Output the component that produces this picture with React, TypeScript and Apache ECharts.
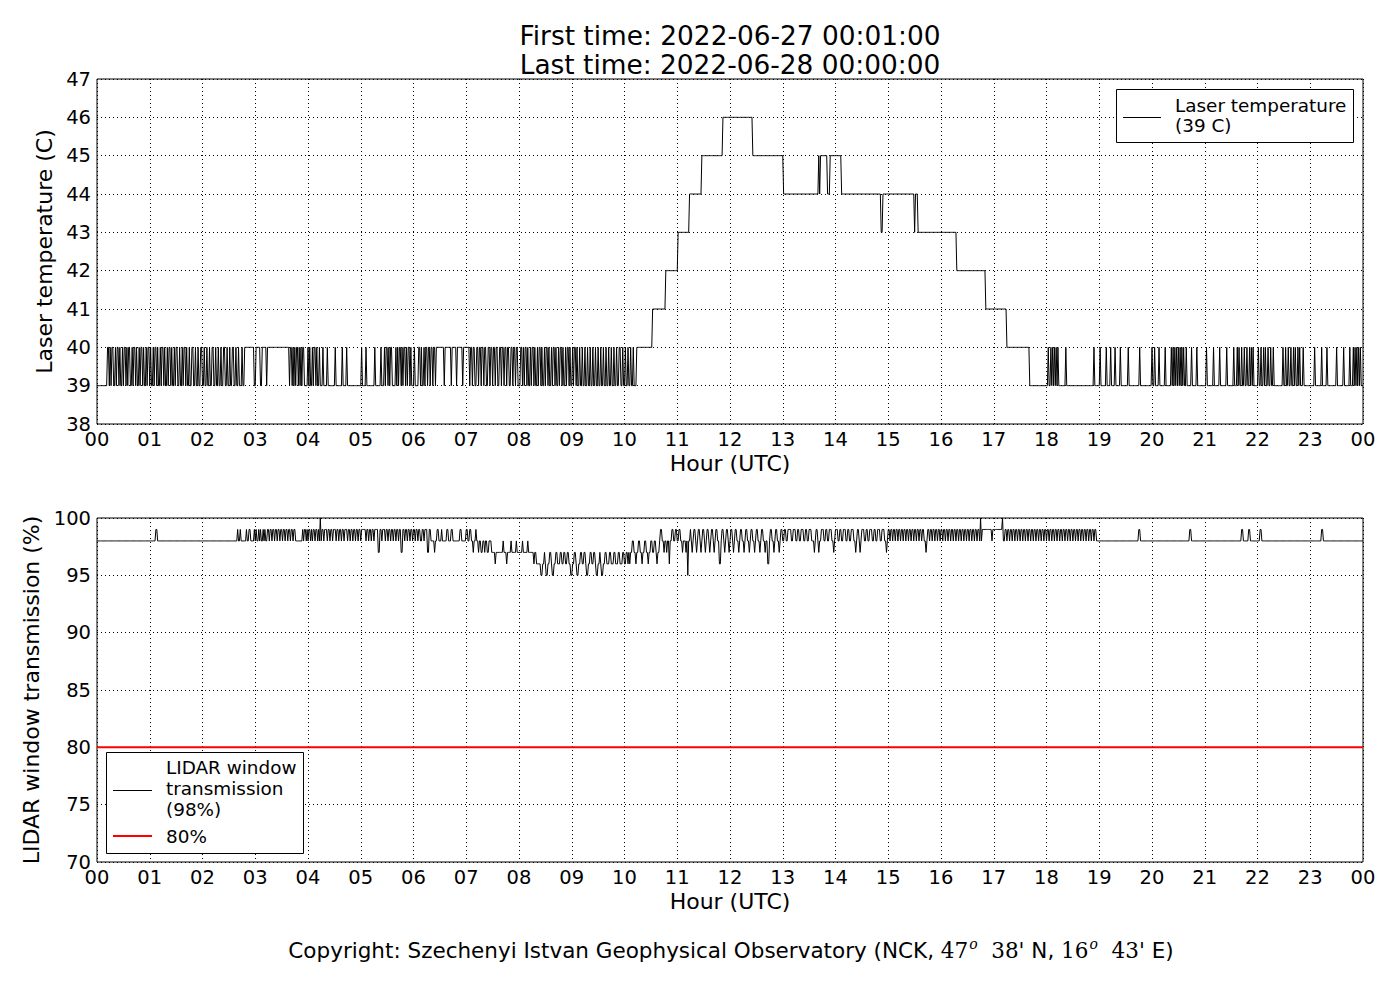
import React, { useEffect, useRef } from "react";
import * as echarts from "echarts";

// ---------- DATA (minutes after 00:00 UTC) ----------
// Laser temperature: base steps [startMinute, value]
const laserBase: number[][] = [
  [0, 39], [168, 40], [219, 39], [366, 40], [481, 39], [614, 40], [632, 41], [647, 42],
  [661, 43], [674, 44], [688, 45], [712, 46], [746, 45], [781, 44], [934, 43], [978, 42],
  [1011, 41], [1035, 40], [1061, 39],
];
// short rises to 40 C where the base is 39 C  [start, end)
const laserUp40: number[][] = [
  [12, 14], [15, 16], [17, 19], [21, 22], [23, 25], [26, 27], [29, 30], [31, 33], [34, 35], [36, 38],
  [40, 41], [42, 44], [45, 46], [48, 49], [50, 52], [53, 54], [56, 57], [58, 60], [61, 62], [64, 65],
  [66, 68], [69, 70], [72, 73], [74, 76], [77, 78], [80, 81], [82, 84], [85, 86], [88, 89], [90, 92],
  [94, 95], [97, 98], [99, 101], [102, 103], [105, 106], [108, 110], [112, 113], [115, 116], [118, 120],
  [122, 123], [125, 126], [128, 129], [131, 133], [135, 136], [138, 139], [141, 142], [144, 146],
  [148, 149], [151, 152], [154, 156], [158, 159], [161, 162], [165, 166],
  [220, 222], [223, 224], [225, 226], [227, 229], [230, 231], [232, 233], [234, 236], [240, 241],
  [242, 243], [245, 246], [247, 249], [250, 251], [253, 254], [257, 258], [262, 263], [271, 272],
  [279, 280], [284, 285],
  [301, 302], [306, 307], [316, 317], [323, 324], [327, 328], [329, 331], [332, 333], [334, 336],
  [340, 341], [342, 343], [344, 346], [347, 348], [349, 351], [352, 353], [354, 356], [357, 358], [361, 362],
  [482, 484], [485, 486], [487, 489], [490, 491], [493, 494], [495, 497], [498, 499], [501, 502],
  [503, 505], [506, 507], [509, 510], [511, 513], [514, 515], [517, 518], [519, 521], [522, 523],
  [525, 526], [527, 529], [530, 531], [533, 534], [535, 537], [538, 539], [541, 542], [543, 545],
  [546, 547], [549, 550], [552, 553], [555, 556], [558, 559], [561, 562], [564, 565], [567, 568],
  [570, 571], [573, 574], [576, 577], [579, 580], [582, 583], [585, 586], [588, 589], [591, 592],
  [594, 596], [598, 599], [601, 602], [604, 605], [607, 608], [610, 611],
  [1082, 1083], [1085, 1086], [1087, 1088], [1089, 1090], [1091, 1092], [1093, 1094], [1102, 1103],
  [1134, 1135], [1141, 1142], [1148, 1149], [1153, 1154], [1158, 1159], [1164, 1165], [1173, 1174],
  [1186, 1187], [1200, 1201], [1203, 1204], [1208, 1209], [1215, 1216], [1222, 1223], [1224, 1225],
  [1226, 1227], [1228, 1229], [1230, 1231], [1232, 1233], [1234, 1235], [1236, 1237], [1239, 1240],
  [1245, 1246], [1251, 1252], [1262, 1263], [1270, 1271], [1277, 1278], [1285, 1286], [1293, 1294],
  [1297, 1298], [1299, 1300], [1302, 1303], [1305, 1306], [1308, 1309], [1311, 1312], [1313, 1314],
  [1315, 1316], [1321, 1322], [1324, 1325], [1327, 1328], [1329, 1330], [1332, 1333], [1335, 1336],
  [1338, 1339], [1349, 1350], [1352, 1353], [1355, 1356], [1358, 1359], [1361, 1362], [1363, 1364],
  [1366, 1367], [1368, 1369], [1372, 1373], [1385, 1386], [1393, 1394], [1399, 1400], [1410, 1411],
  [1418, 1419], [1425, 1426], [1429, 1430], [1431, 1432], [1433, 1434], [1435, 1436], [1437, 1438],
];
// short drops to 39 C where the base is 40 C
const laserDown39: number[][] = [
  [179, 181], [186, 188], [193, 194],
  [368, 369], [370, 372], [373, 374], [376, 377], [379, 380], [382, 383], [385, 386],
  [395, 396], [403, 404], [409, 410], [416, 417],
  [424, 425], [427, 428], [430, 432], [434, 435], [437, 438], [440, 441], [443, 445], [447, 448],
  [450, 451], [453, 454], [456, 458], [460, 461], [463, 464], [466, 467], [469, 471], [473, 474],
  [476, 477], [479, 481],
];
// excursions on the warm plateau [start, end, value]
const laserPlateauSpikes: number[][] = [
  [821, 822, 45], [823, 831, 45], [834, 847, 45], [892, 894, 43], [930, 931, 43],
];

// LIDAR window transmission (%): base steps [startMinute, value]
const lidarBase: number[][] = [
  [0, 98], [303, 99], [380, 98], [449, 97], [497, 96], [605, 97], [640, 98],
];
// excursions [start, end, value]
const lidarSpikes: number[][] = [
  [67, 69, 99], [160, 161, 99], [163, 164, 99], [170, 171, 99], [173, 175, 99],
  [179, 180, 99], [181, 182, 99], [184, 185, 99], [186, 187, 99], [189, 190, 99], [191, 192, 99],
  [194, 196, 99], [197, 199, 99], [200, 202, 99], [203, 205, 99], [206, 208, 99], [209, 211, 99],
  [212, 214, 99], [215, 217, 99], [218, 220, 99], [221, 223, 99], [224, 226, 99],
  [234, 235, 99], [236, 238, 99], [239, 240, 99], [241, 243, 99], [244, 245, 99], [246, 248, 99],
  [249, 251, 99], [252, 253, 99], [254, 255, 100],
  [256, 258, 99], [259, 262, 99], [263, 265, 99], [266, 268, 99], [269, 272, 99], [273, 275, 99],
  [276, 278, 99], [279, 281, 99], [282, 285, 99], [286, 288, 99], [289, 291, 99], [292, 294, 99],
  [295, 297, 99], [298, 300, 99], [301, 303, 99],
  [306, 307, 98], [309, 310, 98], [312, 313, 98], [315, 316, 98], [320, 322, 97], [324, 325, 98],
  [328, 329, 98], [331, 332, 98], [334, 335, 98], [337, 338, 98], [340, 341, 98], [343, 344, 98],
  [346, 348, 97], [350, 351, 98], [353, 354, 98], [356, 357, 98], [359, 360, 98], [362, 363, 98],
  [365, 366, 98], [368, 370, 98], [372, 373, 98], [376, 378, 97],
  [384, 385, 97], [387, 389, 99], [392, 393, 99], [398, 400, 99], [403, 405, 99], [413, 415, 99],
  [420, 422, 99], [424, 426, 99], [428, 429, 97], [431, 432, 99], [434, 435, 97], [437, 439, 97],
  [441, 442, 97], [444, 446, 97],
  [453, 454, 96], [462, 463, 98], [466, 467, 96], [471, 472, 98], [477, 478, 98], [484, 485, 98],
  [490, 491, 98],
  [505, 507, 95], [511, 513, 95], [518, 520, 95], [539, 541, 95], [546, 548, 95], [557, 559, 95],
  [568, 570, 95], [574, 576, 95],
  [498, 500, 97], [509, 510, 97], [515, 517, 97], [522, 524, 97], [527, 529, 97], [531, 533, 97],
  [535, 537, 97], [543, 545, 97], [550, 552, 97], [554, 556, 97], [561, 563, 97], [565, 567, 97],
  [572, 573, 97], [578, 580, 97], [583, 585, 97], [588, 590, 97], [593, 595, 97], [598, 600, 97],
  [602, 604, 97],
  [606, 607, 96], [609, 611, 98], [613, 614, 96], [616, 618, 98], [620, 621, 96], [623, 625, 98],
  [627, 628, 96], [630, 632, 98], [634, 636, 98], [637, 638, 96], [641, 643, 99], [645, 646, 97],
  [648, 649, 97], [651, 652, 96], [654, 656, 99], [658, 660, 99], [662, 664, 99], [666, 667, 97],
  [670, 671, 97], [672, 673, 95],
  [675, 676, 99], [677, 678, 97], [679, 681, 99], [682, 683, 97], [684, 686, 99], [687, 688, 97],
  [689, 691, 99], [692, 693, 97], [694, 696, 99], [697, 698, 97], [699, 701, 99], [702, 703, 97],
  [704, 706, 99], [708, 710, 96], [711, 713, 99], [714, 715, 97], [716, 718, 99], [719, 720, 97],
  [721, 723, 99], [724, 725, 97], [726, 728, 99], [730, 731, 97], [732, 734, 99], [736, 737, 97],
  [738, 740, 99], [742, 743, 97], [744, 746, 99], [748, 749, 97], [750, 752, 99], [754, 755, 97],
  [756, 758, 99], [760, 761, 97], [763, 765, 96], [766, 768, 99], [770, 771, 97], [772, 774, 99],
  [776, 777, 97], [778, 780, 99], [782, 784, 99],
  [786, 790, 99], [792, 795, 99], [797, 799, 99], [801, 804, 99], [806, 808, 99], [810, 813, 99],
  [816, 817, 97], [818, 820, 99], [821, 822, 97], [824, 827, 99], [829, 831, 99], [833, 836, 99],
  [838, 839, 97], [840, 843, 99], [845, 847, 99], [849, 852, 99], [854, 856, 99], [858, 861, 99],
  [863, 864, 97], [865, 867, 99], [868, 869, 97], [870, 873, 99], [875, 877, 99], [879, 882, 99],
  [884, 886, 99], [888, 891, 99], [893, 896, 99], [898, 899, 97],
  [900, 902, 99], [903, 905, 99], [906, 908, 99], [909, 911, 99], [912, 914, 99], [915, 917, 99],
  [918, 920, 99], [921, 923, 99], [924, 926, 99], [927, 929, 99], [930, 932, 99], [933, 935, 99],
  [936, 938, 99], [939, 941, 99], [943, 944, 97], [945, 947, 99], [948, 950, 99], [951, 953, 99],
  [954, 956, 99], [957, 959, 99], [960, 962, 99], [963, 965, 99], [966, 968, 99], [969, 971, 99],
  [972, 974, 99], [975, 977, 99], [978, 980, 99], [981, 983, 99], [984, 986, 99], [987, 989, 99],
  [990, 992, 99], [993, 995, 99], [996, 998, 99], [999, 1001, 99], [1002, 1004, 99],
  [1005, 1006, 100], [1007, 1018, 99], [1019, 1030, 99], [1030, 1031, 100],
  [1033, 1035, 99], [1036, 1038, 99], [1039, 1041, 99], [1042, 1044, 99], [1045, 1047, 99],
  [1048, 1050, 99], [1051, 1053, 99], [1054, 1056, 99], [1057, 1059, 99], [1060, 1062, 99],
  [1063, 1065, 99], [1066, 1068, 99], [1069, 1071, 99], [1072, 1074, 99], [1075, 1077, 99],
  [1078, 1080, 99], [1081, 1083, 99], [1084, 1086, 99], [1087, 1089, 99], [1090, 1092, 99],
  [1093, 1095, 99], [1096, 1098, 99], [1099, 1101, 99], [1102, 1104, 99], [1105, 1107, 99],
  [1108, 1110, 99], [1111, 1113, 99], [1114, 1116, 99], [1117, 1119, 99], [1120, 1122, 99],
  [1123, 1125, 99], [1126, 1128, 99], [1129, 1131, 99], [1132, 1134, 99], [1135, 1137, 99],
  [1185, 1187, 99], [1243, 1245, 99], [1302, 1304, 99], [1310, 1312, 99], [1323, 1325, 99],
  [1393, 1395, 99],
];
// 80 % threshold line
const thresholdLine: number[][] = [[0, 80], [1440, 80]];

// axis ranges / tick labels
const hourTicks = ["00", "01", "02", "03", "04", "05", "06", "07", "08", "09", "10", "11", "12",
  "13", "14", "15", "16", "17", "18", "19", "20", "21", "22", "23", "00"];
const tempRange = [38, 47, 1];
const transRange = [70, 100, 5];

const titleLines = ["First time: 2022-06-27 00:01:00", "Last time: 2022-06-28 00:00:00"];

function expand(base: number[][], overrides: number[][]): number[][] {
  const vals: number[] = [];
  let bi = 0;
  for (let m = 0; m <= 1440; m++) {
    while (bi + 1 < base.length && base[bi + 1][0] <= m) bi++;
    vals.push(base[bi][1]);
  }
  for (const [s, e, v] of overrides) for (let m = s; m < e; m++) vals[m] = v;
  return vals.map((v, m) => [m, v]);
}

const FONT = "DejaVu Sans";
const TICK = 19.5;
const NAME = 22;

export default function App() {
  const ref = useRef<HTMLDivElement>(null);
  useEffect(() => {
    document.body.style.margin = "0";
    const chart = echarts.init(ref.current!, null, { renderer: "svg" });
    const laserData = expand(laserBase, [
      ...laserUp40.map(([s, e]) => [s, e, 40]),
      ...laserDown39.map(([s, e]) => [s, e, 39]),
      ...laserPlateauSpikes,
    ]);
    const lidarData = expand(lidarBase, lidarSpikes);

    const gridLine = { show: true, lineStyle: { color: "#000", type: [1, 3] as any, width: 1 } };
    const labelStyle = { color: "#000", fontSize: TICK, fontFamily: FONT };
    const nameStyle = { color: "#000", fontSize: NAME, fontFamily: FONT };
    const xAxisCommon = (gridIndex: number) => ({
      gridIndex,
      type: "value" as const,
      min: 0,
      max: 1440,
      interval: 60,
      axisLine: { show: false },
      axisTick: { show: false },
      splitLine: gridLine,
      axisLabel: { ...labelStyle, margin: 5, formatter: (v: number) => hourTicks[Math.round(v / 60)] },
      name: "Hour (UTC)",
      nameLocation: "middle" as const,
      nameGap: 28,
      nameTextStyle: nameStyle,
    });

    chart.setOption({
      animation: false,
      backgroundColor: "#fff",
      grid: [
        { left: 97, top: 79, width: 1266, height: 345, show: true, borderColor: "#000", borderWidth: 1, backgroundColor: "transparent" },
        { left: 97, top: 518, width: 1266, height: 344, show: true, borderColor: "#000", borderWidth: 1, backgroundColor: "transparent" },
      ],
      xAxis: [xAxisCommon(0), xAxisCommon(1)],
      yAxis: [
        {
          gridIndex: 0, type: "value", min: tempRange[0], max: tempRange[1], interval: tempRange[2],
          axisLine: { show: false }, axisTick: { show: false }, splitLine: gridLine,
          axisLabel: { ...labelStyle, margin: 6 },
          name: "Laser temperature (C)", nameLocation: "middle", nameGap: 37.5, nameTextStyle: nameStyle,
        },
        {
          gridIndex: 1, type: "value", min: transRange[0], max: transRange[1], interval: transRange[2],
          axisLine: { show: false }, axisTick: { show: false }, splitLine: gridLine,
          axisLabel: { ...labelStyle, margin: 6 },
          name: "LIDAR window transmission (%)", nameLocation: "middle", nameGap: 50.5, nameTextStyle: nameStyle,
        },
      ],
      series: [
        {
          name: "Laser temperature", type: "line", xAxisIndex: 0, yAxisIndex: 0, data: laserData,
          showSymbol: false, silent: true, lineStyle: { color: "#000", width: 1 }, z: 3,
        },
        {
          name: "LIDAR window transmission", type: "line", xAxisIndex: 1, yAxisIndex: 1, data: lidarData,
          showSymbol: false, silent: true, lineStyle: { color: "#000", width: 1 }, z: 3,
        },
        {
          name: "80%", type: "line", xAxisIndex: 1, yAxisIndex: 1, data: thresholdLine,
          showSymbol: false, silent: true, lineStyle: { color: "#ff0000", width: 2 }, z: 4,
        },
      ],
      graphic: [
        { type: "text", x: 730, y: 35, style: { text: titleLines[0], fontSize: 26.4, fontFamily: FONT, fill: "#000", align: "center", verticalAlign: "middle" } },
        { type: "text", x: 730, y: 64, style: { text: titleLines[1], fontSize: 26.4, fontFamily: FONT, fill: "#000", align: "center", verticalAlign: "middle" } },
        // top legend
        { type: "rect", shape: { x: 1116.5, y: 89.5, width: 237, height: 53 }, style: { fill: "#fff", stroke: "#000", lineWidth: 1 }, z: 10 },
        { type: "line", shape: { x1: 1123, y1: 117.5, x2: 1161, y2: 117.5 }, style: { stroke: "#000", lineWidth: 1 }, z: 11 },
        { type: "text", x: 1175, y: 105, style: { text: "Laser temperature", fontSize: 18.4, fontFamily: FONT, fill: "#000", verticalAlign: "middle" }, z: 11 },
        { type: "text", x: 1175, y: 125, style: { text: "(39 C)", fontSize: 18.4, fontFamily: FONT, fill: "#000", verticalAlign: "middle" }, z: 11 },
        // bottom legend
        { type: "rect", shape: { x: 106.5, y: 752.5, width: 197, height: 101 }, style: { fill: "#fff", stroke: "#000", lineWidth: 1 }, z: 10 },
        { type: "line", shape: { x1: 113, y1: 790.5, x2: 152, y2: 790.5 }, style: { stroke: "#000", lineWidth: 1 }, z: 11 },
        { type: "text", x: 166, y: 767, style: { text: "LIDAR window", fontSize: 18.4, fontFamily: FONT, fill: "#000", verticalAlign: "middle" }, z: 11 },
        { type: "text", x: 166, y: 788, style: { text: "transmission", fontSize: 18.4, fontFamily: FONT, fill: "#000", verticalAlign: "middle" }, z: 11 },
        { type: "text", x: 166, y: 809, style: { text: "(98%)", fontSize: 18.4, fontFamily: FONT, fill: "#000", verticalAlign: "middle" }, z: 11 },
        { type: "line", shape: { x1: 113, y1: 836, x2: 152, y2: 836 }, style: { stroke: "#ff0000", lineWidth: 2 }, z: 11 },
        { type: "text", x: 166, y: 836, style: { text: "80%", fontSize: 18.4, fontFamily: FONT, fill: "#000", verticalAlign: "middle" }, z: 11 },
        // copyright
        {
          type: "text", x: 731, y: 950,
          style: {
            text: "{a|Copyright: Szechenyi Istvan Geophysical Observatory (NCK, }{m|47}{s|o}{m|  38'}{a| N, }{m|16}{s|o}{m|  43'}{a| E)}",
            align: "center", verticalAlign: "middle", fill: "#000",
            rich: {
              a: { fontSize: 21.5, fontFamily: FONT, fill: "#000" },
              m: { fontSize: 21.5, fontFamily: "DejaVu Serif", fill: "#000" },
              s: { fontSize: 14, fontFamily: "DejaVu Serif", fontStyle: "italic", fill: "#000", padding: [0, 0, 13, 1] },
            },
          },
        },
      ],
    });
    return () => chart.dispose();
  }, []);
  return <div ref={ref} style={{ width: 1400, height: 1000 }} />;
}
